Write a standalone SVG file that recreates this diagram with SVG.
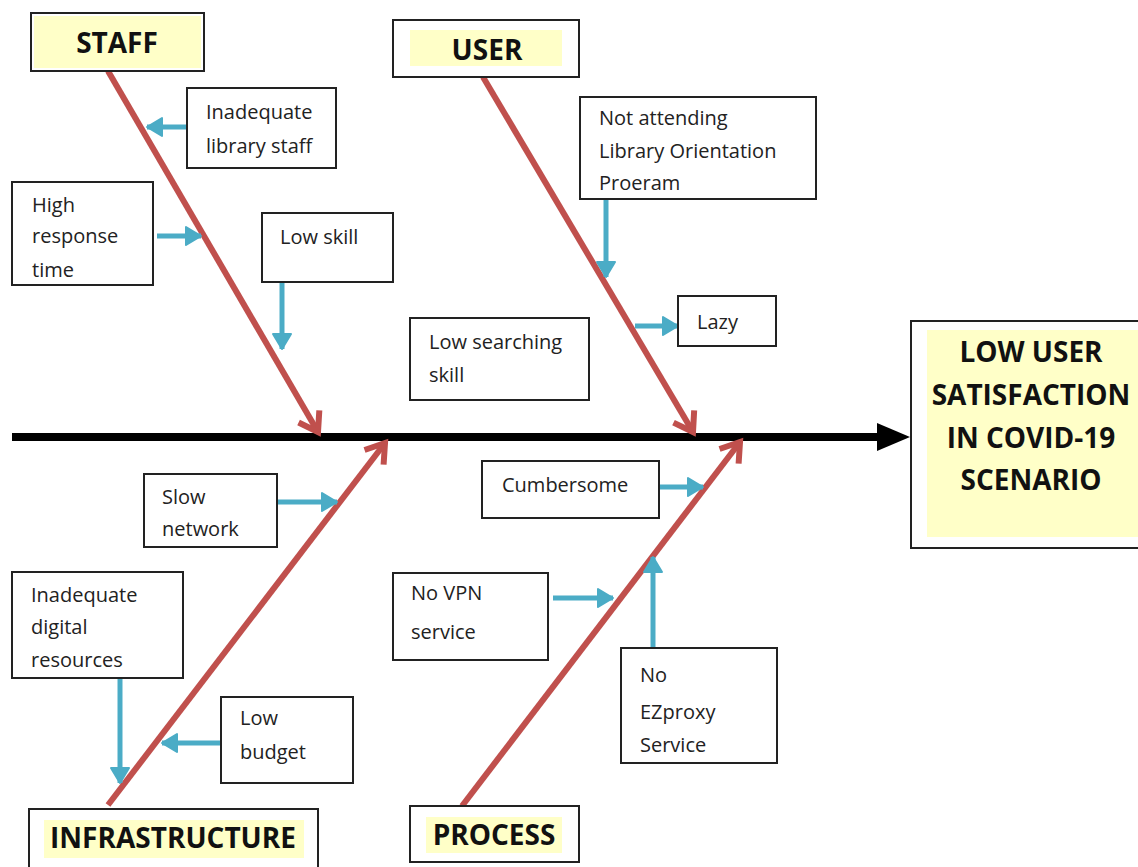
<svg xmlns="http://www.w3.org/2000/svg" width="1138" height="867" viewBox="0 0 1138 867">
<style>
.box{fill:#fff;stroke:#222;stroke-width:2}
.t{font-family:"Open Sans","Liberation Sans",sans-serif;font-size:20px;fill:#222}
.h{font-family:"Open Sans","Liberation Sans",sans-serif;font-size:28px;font-weight:bold;fill:#111}
.bone{stroke:#C0504D;stroke-width:6;fill:none;marker-end:url(#red)}
.cause{stroke:#4BACC6;stroke-width:5;fill:none;marker-end:url(#blue)}
.hl{fill:#FFFFC8}
</style>
<defs>
<marker id="red" markerUnits="userSpaceOnUse" markerWidth="40" markerHeight="40" viewBox="0 0 40 40" refX="30" refY="20" orient="auto">
<path d="M12,8 L30,20 L12,32" fill="none" stroke="#C0504D" stroke-width="6" stroke-linejoin="miter"/>
</marker>
<marker id="blue" markerUnits="userSpaceOnUse" markerWidth="30" markerHeight="30" viewBox="0 0 30 30" refX="20" refY="15" orient="auto">
<path d="M5,6 L20,15 L5,24 Z" fill="#4BACC6" stroke="#4BACC6" stroke-width="2" stroke-linejoin="round"/>
</marker>
</defs>

<g id="spine">
<line x1="12" y1="437" x2="880" y2="437" stroke="#000" stroke-width="8"/>
<path d="M877,423 L910,437 L877,451 Z" fill="#000"/>
</g>

<g id="connectors">
<line class="bone" x1="108" y1="71" x2="318" y2="432"/>
<line class="bone" x1="483" y1="77" x2="693" y2="432"/>
<line class="bone" x1="108" y1="805" x2="385" y2="443"/>
<line class="bone" x1="462" y1="806" x2="740" y2="442"/>
<line class="cause" x1="187" y1="127" x2="147" y2="127"/>
<line class="cause" x1="157" y1="236" x2="201" y2="236"/>
<line class="cause" x1="282" y1="282" x2="282" y2="349"/>
<line class="cause" x1="606" y1="199" x2="606" y2="277"/>
<line class="cause" x1="635" y1="326" x2="678" y2="326"/>
<line class="cause" x1="277" y1="502" x2="337" y2="502"/>
<line class="cause" x1="120" y1="678" x2="120" y2="783"/>
<line class="cause" x1="221" y1="743" x2="162" y2="743"/>
<line class="cause" x1="659" y1="487" x2="703" y2="487"/>
<line class="cause" x1="553" y1="598" x2="613" y2="598"/>
<line class="cause" x1="653" y1="648" x2="653" y2="557"/>
</g>

<g id="staff">
<rect class="box" x="31" y="13" width="173" height="58"/>
<rect class="hl" x="34" y="16" width="167" height="52"/>
<text class="h" x="117" y="53" text-anchor="middle">STAFF</text>
</g>
<g id="user">
<rect class="box" x="393" y="20" width="186" height="57"/>
<rect class="hl" x="410" y="30" width="152" height="36"/>
<text class="h" x="487" y="60" text-anchor="middle">USER</text>
</g>
<g id="infrastructure">
<rect class="box" x="29" y="809" width="289" height="70"/>
<rect class="hl" x="44" y="820" width="260" height="38"/>
<text class="h" x="173" y="848" text-anchor="middle">INFRASTRUCTURE</text>
</g>
<g id="process">
<rect class="box" x="410" y="806" width="169" height="56"/>
<rect class="hl" x="426" y="817" width="136" height="36"/>
<text class="h" x="494" y="845" text-anchor="middle">PROCESS</text>
</g>
<g id="effect">
<rect class="box" x="911" y="321" width="240" height="227"/>
<rect class="hl" x="927" y="330" width="211" height="207"/>
<text class="h" x="1031" y="362" text-anchor="middle">LOW USER</text>
<text class="h" x="1031" y="405" text-anchor="middle">SATISFACTION</text>
<text class="h" x="1031" y="448" text-anchor="middle">IN COVID-19</text>
<text class="h" x="1031" y="490" text-anchor="middle">SCENARIO</text>
</g>

<g id="inadequate-library-staff">
<rect class="box" x="187" y="88" width="149" height="80"/>
<text class="t" x="206" y="119">Inadequate</text>
<text class="t" x="206" y="153">library staff</text>
</g>
<g id="high-response-time">
<rect class="box" x="12" y="182" width="141" height="103"/>
<text class="t" x="32" y="212">High</text>
<text class="t" x="32" y="243">response</text>
<text class="t" x="32" y="277">time</text>
</g>
<g id="low-skill">
<rect class="box" x="262" y="213" width="131" height="69"/>
<text class="t" x="280" y="244">Low skill</text>
</g>
<g id="not-attending">
<rect class="box" x="580" y="97" width="236" height="102"/>
<text class="t" x="599" y="125">Not attending</text>
<text class="t" x="599" y="158">Library Orientation</text>
<text class="t" x="599" y="190">Proeram</text>
</g>
<g id="lazy">
<rect class="box" x="678" y="296" width="98" height="50"/>
<text class="t" x="697" y="329">Lazy</text>
</g>
<g id="low-searching-skill">
<rect class="box" x="410" y="318" width="179" height="82"/>
<text class="t" x="429" y="349">Low searching</text>
<text class="t" x="429" y="382">skill</text>
</g>
<g id="cumbersome">
<rect class="box" x="482" y="461" width="177" height="57"/>
<text class="t" x="502" y="492">Cumbersome</text>
</g>
<g id="slow-network">
<rect class="box" x="144" y="474" width="133" height="73"/>
<text class="t" x="162" y="504">Slow</text>
<text class="t" x="162" y="536">network</text>
</g>
<g id="inadequate-digital-resources">
<rect class="box" x="12" y="572" width="171" height="106"/>
<text class="t" x="31" y="602">Inadequate</text>
<text class="t" x="31" y="634">digital</text>
<text class="t" x="31" y="667">resources</text>
</g>
<g id="low-budget">
<rect class="box" x="221" y="697" width="132" height="86"/>
<text class="t" x="240" y="725">Low</text>
<text class="t" x="240" y="759">budget</text>
</g>
<g id="no-vpn-service">
<rect class="box" x="393" y="573" width="155" height="87"/>
<text class="t" x="411" y="600">No VPN</text>
<text class="t" x="411" y="639">service</text>
</g>
<g id="no-ezproxy-service">
<rect class="box" x="621" y="648" width="156" height="115"/>
<text class="t" x="640" y="682">No</text>
<text class="t" x="640" y="719">EZproxy</text>
<text class="t" x="640" y="752">Service</text>
</g>
</svg>
